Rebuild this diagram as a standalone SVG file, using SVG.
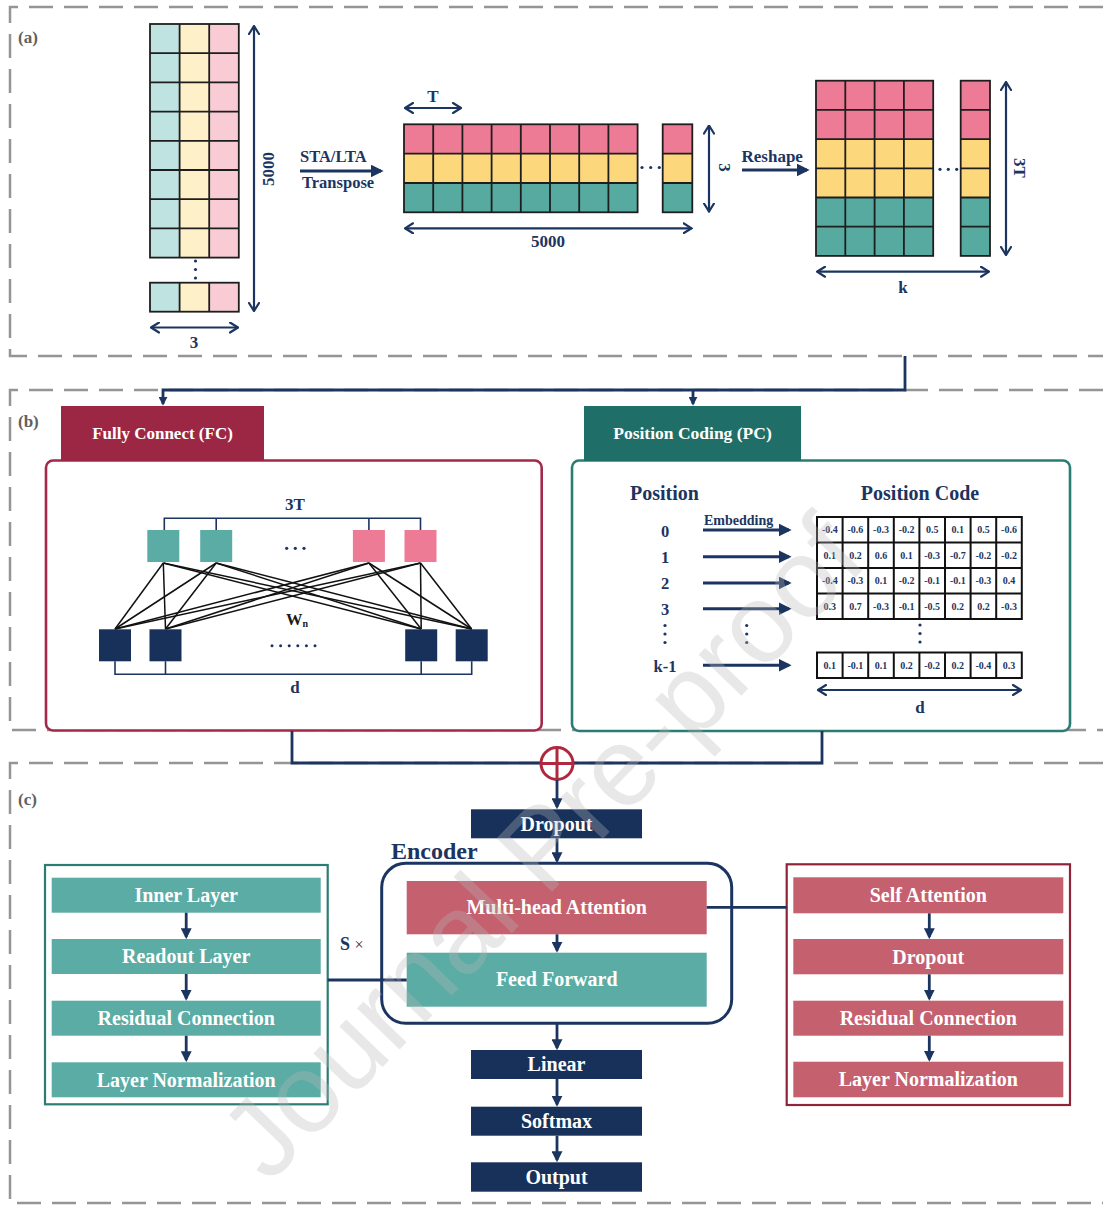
<svg xmlns="http://www.w3.org/2000/svg" width="1103" height="1205" viewBox="0 0 1103 1205">
<defs>
<style>
.t{font-family:"Liberation Serif","Times New Roman",serif;font-weight:bold}
.nv{fill:#1c3560}
.wt{fill:#ffffff}
.lab{fill:#606060}
.dash{fill:none;stroke:#959595;stroke-width:2.5;stroke-dasharray:24 11}
.grid{fill:none;stroke:#1e1e1e;stroke-width:1.8}
.cn{stroke:#1c3560;stroke-width:2.8;fill:none}
.dim{stroke:#1c3560;stroke-width:2.2;fill:none;marker-start:url(#ch);marker-end:url(#ch)}
.fcl{stroke:#111;stroke-width:1.5}
.br{fill:none;stroke:#1c3560;stroke-width:1.6}
.navy{fill:#17315a}
.rose{fill:#c5606f}
.teal{fill:#5aaca4}
.dot{fill:#1c3560}
</style>
<marker id="ch" viewBox="0 0 10 12" refX="9" refY="6" markerWidth="10" markerHeight="12" markerUnits="userSpaceOnUse" orient="auto-start-reverse">
<path d="M1,1 L9,6 L1,11" fill="none" stroke="#1c3560" stroke-width="2.2" stroke-linecap="round"/>
</marker>
<marker id="ar" viewBox="0 0 10 10" refX="8" refY="5" markerWidth="11" markerHeight="11" markerUnits="userSpaceOnUse" orient="auto">
<path d="M0,0 L10,5 L0,10 z" fill="#1c3560"/>
</marker>
<marker id="arS" viewBox="0 0 10 10" refX="8" refY="5" markerWidth="9" markerHeight="9" markerUnits="userSpaceOnUse" orient="auto">
<path d="M0,0 L10,5 L0,10 z" fill="#1c3560"/>
</marker>
<marker id="arB" viewBox="0 0 10 10" refX="8" refY="5" markerWidth="13" markerHeight="13" markerUnits="userSpaceOnUse" orient="auto">
<path d="M0,0 L10,5 L0,10 z" fill="#1c3560"/>
</marker>
</defs>
<rect width="1103" height="1205" fill="#ffffff"/>

<!-- section frames -->
<g id="frames">
<path class="dash" d="M1103,7 H10 V356 H1103"/>
<path class="dash" d="M1103,390 H10 V730 H1103"/>
<path class="dash" d="M1103,763 H10 V1203 H1103"/>
<text class="t lab" x="18" y="43" font-size="17">(a)</text>
<text class="t lab" x="18" y="427" font-size="17">(b)</text>
<text class="t lab" x="18" y="805" font-size="17">(c)</text>
</g>

<!-- (a) input grid -->
<g id="grid-input">
<rect x="150" y="24" width="29.6" height="233.6" fill="#bfe3e0"/>
<rect x="179.6" y="24" width="29.6" height="233.6" fill="#fef0c8"/>
<rect x="209.2" y="24" width="29.6" height="233.6" fill="#f8cbd5"/>
<rect class="grid" x="150" y="24" width="88.8" height="233.6"/>
<path class="grid" d="M179.6,24 V257.6 M209.2,24 V257.6 M150,53.2 H238.8 M150,82.4 H238.8 M150,111.6 H238.8 M150,140.8 H238.8 M150,170 H238.8 M150,199.2 H238.8 M150,228.4 H238.8"/>
<circle class="dot" cx="195.5" cy="261" r="1.6"/>
<circle class="dot" cx="195.5" cy="269.5" r="1.6"/>
<circle class="dot" cx="195.5" cy="278" r="1.6"/>
<rect x="150" y="282.7" width="29.6" height="29" fill="#bfe3e0"/>
<rect x="179.6" y="282.7" width="29.6" height="29" fill="#fef0c8"/>
<rect x="209.2" y="282.7" width="29.6" height="29" fill="#f8cbd5"/>
<rect class="grid" x="150" y="282.7" width="88.8" height="29"/>
<path class="grid" d="M179.6,282.7 V311.7 M209.2,282.7 V311.7"/>
<line class="dim" x1="254" y1="26" x2="254" y2="311"/>
<text class="t nv" font-size="17" text-anchor="middle" transform="translate(274,169) rotate(-90)">5000</text>
<line class="dim" x1="151" y1="327.5" x2="238" y2="327.5"/>
<text class="t nv" x="194" y="348" font-size="17" text-anchor="middle">3</text>
</g>

<g id="transpose-label">
<text class="t nv" x="300" y="162" font-size="16.5">STA/LTA</text>
<text class="t nv" x="302" y="188" font-size="16.5">Transpose</text>
</g>

<!-- (a) transposed grid -->
<g id="grid-transposed">
<rect x="404" y="124.3" width="233.6" height="29.3" fill="#ee7b96"/>
<rect x="404" y="153.6" width="233.6" height="29.4" fill="#fcd77c"/>
<rect x="404" y="183" width="233.6" height="29.3" fill="#57aaa0"/>
<rect class="grid" x="404" y="124.3" width="233.6" height="88"/>
<path class="grid" d="M433.2,124.3 V212.3 M462.4,124.3 V212.3 M491.6,124.3 V212.3 M520.8,124.3 V212.3 M550,124.3 V212.3 M579.2,124.3 V212.3 M608.4,124.3 V212.3 M404,153.6 H637.6 M404,183 H637.6"/>
<rect x="662.7" y="124.3" width="29.6" height="29.3" fill="#ee7b96"/>
<rect x="662.7" y="153.6" width="29.6" height="29.4" fill="#fcd77c"/>
<rect x="662.7" y="183" width="29.6" height="29.3" fill="#57aaa0"/>
<rect class="grid" x="662.7" y="124.3" width="29.6" height="88"/>
<path class="grid" d="M662.7,153.6 H692.3 M662.7,183 H692.3"/>
<circle class="dot" cx="642" cy="167.5" r="1.6"/>
<circle class="dot" cx="650.7" cy="167.5" r="1.6"/>
<circle class="dot" cx="659.3" cy="167.5" r="1.6"/>
<line class="dim" x1="405" y1="108" x2="461" y2="108"/>
<text class="t nv" x="433" y="101.5" font-size="17" text-anchor="middle">T</text>
<line class="dim" x1="709" y1="125.5" x2="709" y2="211.5"/>
<text class="t nv" font-size="17" text-anchor="middle" transform="translate(719,167.5) rotate(90)">3</text>
<line class="dim" x1="405" y1="228.3" x2="691.5" y2="228.3"/>
<text class="t nv" x="548" y="247" font-size="17" text-anchor="middle">5000</text>
</g>

<text id="reshape-label" class="t nv" x="741.5" y="162" font-size="17">Reshape</text>

<!-- (a) reshaped grid -->
<g id="grid-reshaped">
<rect x="816" y="80.7" width="117.2" height="58.4" fill="#ee7b96"/>
<rect x="816" y="139.1" width="117.2" height="58.4" fill="#fcd77c"/>
<rect x="816" y="197.5" width="117.2" height="58.4" fill="#57aaa0"/>
<rect class="grid" x="816" y="80.7" width="117.2" height="175.2"/>
<path class="grid" d="M845.3,80.7 V255.9 M874.6,80.7 V255.9 M903.9,80.7 V255.9 M816,109.9 H933.2 M816,139.1 H933.2 M816,168.3 H933.2 M816,197.5 H933.2 M816,226.7 H933.2"/>
<rect x="960.7" y="80.7" width="29.3" height="58.4" fill="#ee7b96"/>
<rect x="960.7" y="139.1" width="29.3" height="58.4" fill="#fcd77c"/>
<rect x="960.7" y="197.5" width="29.3" height="58.4" fill="#57aaa0"/>
<rect class="grid" x="960.7" y="80.7" width="29.3" height="175.2"/>
<path class="grid" d="M960.7,109.9 H990 M960.7,139.1 H990 M960.7,168.3 H990 M960.7,197.5 H990 M960.7,226.7 H990"/>
<circle class="dot" cx="940" cy="169.3" r="1.6"/>
<circle class="dot" cx="948.3" cy="169.3" r="1.6"/>
<circle class="dot" cx="956.7" cy="169.3" r="1.6"/>
<line class="dim" x1="1006" y1="82" x2="1006" y2="255"/>
<text class="t nv" font-size="17" text-anchor="middle" transform="translate(1014,168) rotate(90)">3T</text>
<line class="dim" x1="817" y1="271.7" x2="989" y2="271.7"/>
<text class="t nv" x="903" y="293" font-size="17" text-anchor="middle">k</text>
</g>

<!-- (b) Fully Connect -->
<g id="fc">
<rect x="46" y="460.5" width="495.7" height="270" rx="7" fill="#ffffff" stroke="#a3294a" stroke-width="2.6"/>
<rect x="61" y="406" width="203" height="55" fill="#9c2744"/>
<text class="t wt" x="162.5" y="439" font-size="17" text-anchor="middle">Fully Connect (FC)</text>
<text class="t nv" x="295" y="510" font-size="17" text-anchor="middle">3T</text>
<path class="br" d="M164.3,530 V518.3 H420.5 V530 M216.2,518.3 V530 M368.9,518.3 V530"/>
<g class="fcl">
<line x1="163.3" y1="563" x2="115" y2="629"/><line x1="163.3" y1="563" x2="165.5" y2="629"/><line x1="163.3" y1="563" x2="421.2" y2="629"/><line x1="163.3" y1="563" x2="471.7" y2="629"/>
<line x1="216.2" y1="563" x2="115" y2="629"/><line x1="216.2" y1="563" x2="165.5" y2="629"/><line x1="216.2" y1="563" x2="421.2" y2="629"/><line x1="216.2" y1="563" x2="471.7" y2="629"/>
<line x1="368.9" y1="563" x2="115" y2="629"/><line x1="368.9" y1="563" x2="165.5" y2="629"/><line x1="368.9" y1="563" x2="421.2" y2="629"/><line x1="368.9" y1="563" x2="471.7" y2="629"/>
<line x1="420.5" y1="563" x2="115" y2="629"/><line x1="420.5" y1="563" x2="165.5" y2="629"/><line x1="420.5" y1="563" x2="421.2" y2="629"/><line x1="420.5" y1="563" x2="471.7" y2="629"/>
</g>
<rect x="147.3" y="530" width="32" height="32" fill="#5aaca4"/>
<rect x="200.2" y="530" width="32" height="32" fill="#5aaca4"/>
<rect x="352.9" y="530" width="32" height="32" fill="#ee7b96"/>
<rect x="404.5" y="530" width="32" height="32" fill="#ee7b96"/>
<circle class="dot" cx="286.7" cy="548.3" r="1.6"/>
<circle class="dot" cx="295.3" cy="548.3" r="1.6"/>
<circle class="dot" cx="304" cy="548.3" r="1.6"/>
<text class="t" x="286" y="625" font-size="16.5" fill="#1a1a1a">W<tspan font-size="10" dy="2">n</tspan></text>
<rect class="navy" x="99" y="629.3" width="32" height="32"/>
<rect class="navy" x="149.5" y="629.3" width="32" height="32"/>
<rect class="navy" x="405.2" y="629.3" width="32" height="32"/>
<rect class="navy" x="455.7" y="629.3" width="32" height="32"/>
<circle class="dot" cx="272" cy="645.7" r="1.5"/>
<circle class="dot" cx="280.6" cy="645.7" r="1.5"/>
<circle class="dot" cx="289.2" cy="645.7" r="1.5"/>
<circle class="dot" cx="297.8" cy="645.7" r="1.5"/>
<circle class="dot" cx="306.4" cy="645.7" r="1.5"/>
<circle class="dot" cx="315" cy="645.7" r="1.5"/>
<path class="br" d="M115,661.3 V674.3 H471.7 V661.3 M165.5,674.3 V661.3 M421.2,674.3 V661.3"/>
<text class="t nv" x="295" y="693" font-size="17" text-anchor="middle">d</text>
</g>

<!-- (b) Position Coding -->
<g id="pc">
<rect x="572" y="460.5" width="498" height="270.5" rx="7" fill="#ffffff" stroke="#2a7d72" stroke-width="2.6"/>
<rect x="584" y="406" width="217" height="55" fill="#1f6e68"/>
<text class="t wt" x="692.5" y="439" font-size="17.5" text-anchor="middle">Position Coding (PC)</text>
<text class="t nv" x="630" y="500" font-size="20">Position</text>
<text class="t nv" x="920" y="500" font-size="20" text-anchor="middle">Position Code</text>
<g class="t nv" font-size="16.5" text-anchor="middle">
<text x="665" y="537">0</text>
<text x="665" y="562.5">1</text>
<text x="665" y="588.5">2</text>
<text x="665" y="614.5">3</text>
<text x="665" y="671.5">k-1</text>
</g>
<circle class="dot" cx="665" cy="625.5" r="1.6"/>
<circle class="dot" cx="665" cy="634" r="1.6"/>
<circle class="dot" cx="665" cy="642.5" r="1.6"/>
<circle class="dot" cx="746.7" cy="625.5" r="1.6"/>
<circle class="dot" cx="746.7" cy="634" r="1.6"/>
<circle class="dot" cx="746.7" cy="642.5" r="1.6"/>
<text class="t nv" x="704" y="525" font-size="14">Embedding</text>
<g stroke="#1c3560" stroke-width="3" marker-end="url(#arB)">
<line x1="703" y1="530" x2="789" y2="530"/>
<line x1="703" y1="556.7" x2="789" y2="556.7"/>
<line x1="703" y1="583" x2="789" y2="583"/>
<line x1="703" y1="608.7" x2="789" y2="608.7"/>
<line x1="703" y1="665.3" x2="789" y2="665.3"/>
</g>
<g id="pc-table">
<rect x="817" y="517" width="204.8" height="102" fill="#ffffff" stroke="#111" stroke-width="2"/>
<path fill="none" stroke="#111" stroke-width="2" d="M842.6,517 V619 M868.2,517 V619 M893.8,517 V619 M919.4,517 V619 M945,517 V619 M970.6,517 V619 M996.2,517 V619 M817,542.5 H1021.8 M817,568 H1021.8 M817,593.5 H1021.8"/>
<rect x="817" y="652.5" width="204.8" height="25.5" fill="#ffffff" stroke="#111" stroke-width="2"/>
<path fill="none" stroke="#111" stroke-width="2" d="M842.6,652.5 V678 M868.2,652.5 V678 M893.8,652.5 V678 M919.4,652.5 V678 M945,652.5 V678 M970.6,652.5 V678 M996.2,652.5 V678"/>
<g class="t nv" font-size="10" text-anchor="middle">
<text x="829.8" y="533.3">-0.4</text><text x="855.4" y="533.3">-0.6</text><text x="881" y="533.3">-0.3</text><text x="906.6" y="533.3">-0.2</text><text x="932.2" y="533.3">0.5</text><text x="957.8" y="533.3">0.1</text><text x="983.4" y="533.3">0.5</text><text x="1009" y="533.3">-0.6</text>
<text x="829.8" y="558.8">0.1</text><text x="855.4" y="558.8">0.2</text><text x="881" y="558.8">0.6</text><text x="906.6" y="558.8">0.1</text><text x="932.2" y="558.8">-0.3</text><text x="957.8" y="558.8">-0.7</text><text x="983.4" y="558.8">-0.2</text><text x="1009" y="558.8">-0.2</text>
<text x="829.8" y="584.3">-0.4</text><text x="855.4" y="584.3">-0.3</text><text x="881" y="584.3">0.1</text><text x="906.6" y="584.3">-0.2</text><text x="932.2" y="584.3">-0.1</text><text x="957.8" y="584.3">-0.1</text><text x="983.4" y="584.3">-0.3</text><text x="1009" y="584.3">0.4</text>
<text x="829.8" y="609.8">0.3</text><text x="855.4" y="609.8">0.7</text><text x="881" y="609.8">-0.3</text><text x="906.6" y="609.8">-0.1</text><text x="932.2" y="609.8">-0.5</text><text x="957.8" y="609.8">0.2</text><text x="983.4" y="609.8">0.2</text><text x="1009" y="609.8">-0.3</text>
<text x="829.8" y="668.8">0.1</text><text x="855.4" y="668.8">-0.1</text><text x="881" y="668.8">0.1</text><text x="906.6" y="668.8">0.2</text><text x="932.2" y="668.8">-0.2</text><text x="957.8" y="668.8">0.2</text><text x="983.4" y="668.8">-0.4</text><text x="1009" y="668.8">0.3</text>
</g>
<circle class="dot" cx="920" cy="625" r="1.6"/>
<circle class="dot" cx="920" cy="633.5" r="1.6"/>
<circle class="dot" cx="920" cy="642" r="1.6"/>
</g>
<line class="dim" x1="818" y1="690" x2="1021" y2="690"/>
<text class="t nv" x="920" y="713" font-size="17" text-anchor="middle">d</text>
</g>

<!-- (c) -->
<g id="dropout">
<rect class="navy" x="471" y="809.3" width="171" height="29"/>
<text class="t wt" x="556.5" y="830.5" font-size="20" text-anchor="middle">Dropout</text>
</g>

<g id="encoder">
<text class="t nv" x="391" y="859" font-size="24">Encoder</text>
<rect x="381.7" y="863.3" width="350" height="160" rx="24" fill="none" stroke="#1c3560" stroke-width="3"/>
</g>
<g id="mha">
<rect class="rose" x="406.7" y="881" width="300" height="53.3"/>
<text class="t wt" x="556.7" y="914.3" font-size="20" text-anchor="middle">Multi-head Attention</text>
</g>
<g id="ff">
<rect class="teal" x="406.7" y="952.7" width="300" height="54"/>
<text class="t wt" x="556.7" y="986.3" font-size="20" text-anchor="middle">Feed Forward</text>
</g>
<g id="linear">
<rect class="navy" x="471" y="1050" width="171" height="29"/>
<text class="t wt" x="556.5" y="1071.3" font-size="20" text-anchor="middle">Linear</text>
</g>
<g id="softmax">
<rect class="navy" x="471" y="1106.7" width="171" height="29"/>
<text class="t wt" x="556.5" y="1128" font-size="20" text-anchor="middle">Softmax</text>
</g>
<g id="output">
<rect class="navy" x="471" y="1162.3" width="171" height="29.4"/>
<text class="t wt" x="556.5" y="1184" font-size="20" text-anchor="middle">Output</text>
</g>

<g id="left-panel">
<rect x="45" y="865" width="282.7" height="239.3" fill="#ffffff" stroke="#2b7d73" stroke-width="2.2"/>
<rect class="teal" x="51.7" y="877.7" width="269" height="35"/>
<text class="t wt" x="186.2" y="902" font-size="20" text-anchor="middle">Inner Layer</text>
<rect class="teal" x="51.7" y="939" width="269" height="35"/>
<text class="t wt" x="186.2" y="963.3" font-size="20" text-anchor="middle">Readout Layer</text>
<rect class="teal" x="51.7" y="1000.7" width="269" height="35"/>
<text class="t wt" x="186.2" y="1025" font-size="20" text-anchor="middle">Residual Connection</text>
<rect class="teal" x="51.7" y="1062.3" width="269" height="35"/>
<text class="t wt" x="186.2" y="1086.6" font-size="20" text-anchor="middle">Layer Normalization</text>
</g>
<text id="s-times" class="t nv" x="340" y="950" font-size="18">S <tspan font-weight="normal" font-size="16">×</tspan></text>

<g id="right-panel">
<rect x="786.7" y="864.3" width="283.3" height="240.7" fill="#ffffff" stroke="#8f2438" stroke-width="2.2"/>
<rect class="rose" x="793.3" y="877.3" width="270" height="36"/>
<text class="t wt" x="928.3" y="902" font-size="20" text-anchor="middle">Self Attention</text>
<rect class="rose" x="793.3" y="939" width="270" height="35.3"/>
<text class="t wt" x="928.3" y="963.5" font-size="20" text-anchor="middle">Dropout</text>
<rect class="rose" x="793.3" y="1000.7" width="270" height="35"/>
<text class="t wt" x="928.3" y="1025" font-size="20" text-anchor="middle">Residual Connection</text>
<rect class="rose" x="793.3" y="1061.7" width="270" height="35.6"/>
<text class="t wt" x="928.3" y="1086.3" font-size="20" text-anchor="middle">Layer Normalization</text>
</g>

<!-- connectors -->
<g id="connectors">
<path class="cn" d="M905,356 V390 H163 V404" marker-end="url(#arS)"/>
<path class="cn" d="M693,390 V404" marker-end="url(#arS)"/>
<line class="cn" x1="300" y1="171" x2="381" y2="171" stroke-width="3.2" marker-end="url(#arB)"/>
<line class="cn" x1="742" y1="170" x2="807" y2="170" stroke-width="3.2" marker-end="url(#arB)"/>
<path class="cn" d="M292,731 V763 H822 V731"/>
<circle cx="557" cy="763.5" r="16" fill="#ffffff" stroke="#b0283f" stroke-width="3"/>
<path d="M557,747.5 V779.5 M541,763.5 H573" stroke="#b0283f" stroke-width="3"/>
<line class="cn" x1="557" y1="780" x2="557" y2="807" marker-end="url(#ar)"/>
<line class="cn" x1="557" y1="838.3" x2="557" y2="861" marker-end="url(#ar)"/>
<line class="cn" x1="557" y1="934.3" x2="557" y2="950.5" marker-end="url(#ar)"/>
<line class="cn" x1="557" y1="1023.3" x2="557" y2="1048" marker-end="url(#ar)"/>
<line class="cn" x1="557" y1="1079" x2="557" y2="1104.5" marker-end="url(#ar)"/>
<line class="cn" x1="557" y1="1135.7" x2="557" y2="1160" marker-end="url(#ar)"/>
<line class="cn" x1="186.2" y1="912.7" x2="186.2" y2="937" marker-end="url(#ar)"/>
<line class="cn" x1="186.2" y1="974" x2="186.2" y2="998.5" marker-end="url(#ar)"/>
<line class="cn" x1="186.2" y1="1035.7" x2="186.2" y2="1060" marker-end="url(#ar)"/>
<line class="cn" x1="929.3" y1="913.3" x2="929.3" y2="937" marker-end="url(#ar)"/>
<line class="cn" x1="929.3" y1="974.3" x2="929.3" y2="998.5" marker-end="url(#ar)"/>
<line class="cn" x1="929.3" y1="1035.7" x2="929.3" y2="1059.5" marker-end="url(#ar)"/>
<line class="cn" x1="706.7" y1="907.3" x2="786.7" y2="907.3" stroke-width="2.4"/>
<line class="cn" x1="327.7" y1="980" x2="406.7" y2="980" stroke-width="2.4"/>
</g>

<!-- watermark -->
<text id="watermark" transform="translate(545,850) rotate(-46)" x="0" y="34" text-anchor="middle" font-family="'Liberation Sans',Arial,sans-serif" font-size="112" fill="#b8b8b8" fill-opacity="0.32">Journal Pre-proof</text>
</svg>
